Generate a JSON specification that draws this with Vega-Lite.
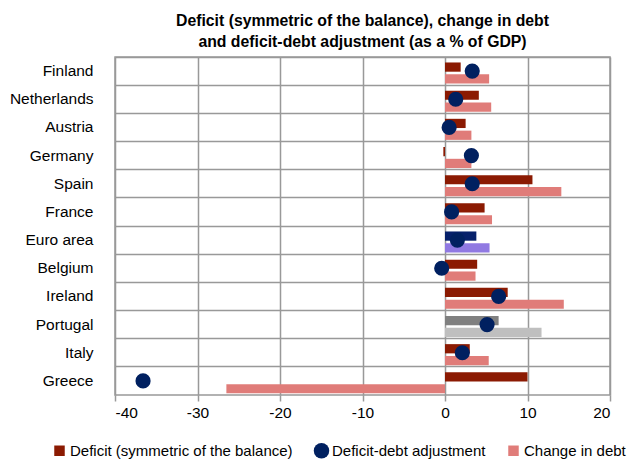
{
  "$schema": "https://vega.github.io/schema/vega-lite/v6.json",
  "autosize": "none",
  "width": 495,
  "height": 338,
  "padding": {"left": 115, "top": 57, "right": 24, "bottom": 68},
  "background": "white",
  "config": {
    "font": "Liberation Sans",
    "view": {"stroke": "#999999", "strokeWidth": 1.5}
  },
  "title": {
    "text": ["Deficit (symmetric of the balance), change in debt", "and deficit-debt adjustment (as a % of GDP)"],
    "font": "Liberation Sans",
    "fontSize": 15.8,
    "fontWeight": "bold",
    "color": "#000000",
    "anchor": "middle",
    "lineHeight": 21,
    "offset": 6
  },
  "data": {
    "values": [
      {"country": "Finland", "series": "Deficit", "value": 1.9, "colorKey": "Deficit (symmetric of the balance)"},
      {"country": "Finland", "series": "Change", "value": 5.35, "colorKey": "Change in debt"},
      {"country": "Finland", "series": "Adjustment", "value": 3.3, "colorKey": "Deficit-debt adjustment"},
      {"country": "Netherlands", "series": "Deficit", "value": 4.1, "colorKey": "Deficit (symmetric of the balance)"},
      {"country": "Netherlands", "series": "Change", "value": 5.6, "colorKey": "Change in debt"},
      {"country": "Netherlands", "series": "Adjustment", "value": 1.3, "colorKey": "Deficit-debt adjustment"},
      {"country": "Austria", "series": "Deficit", "value": 2.5, "colorKey": "Deficit (symmetric of the balance)"},
      {"country": "Austria", "series": "Change", "value": 3.2, "colorKey": "Change in debt"},
      {"country": "Austria", "series": "Adjustment", "value": 0.5, "colorKey": "Deficit-debt adjustment"},
      {"country": "Germany", "series": "Deficit", "value": -0.2, "colorKey": "Deficit (symmetric of the balance)"},
      {"country": "Germany", "series": "Change", "value": 3.2, "colorKey": "Change in debt"},
      {"country": "Germany", "series": "Adjustment", "value": 3.2, "colorKey": "Deficit-debt adjustment"},
      {"country": "Spain", "series": "Deficit", "value": 10.6, "colorKey": "Deficit (symmetric of the balance)"},
      {"country": "Spain", "series": "Change", "value": 14.1, "colorKey": "Change in debt"},
      {"country": "Spain", "series": "Adjustment", "value": 3.3, "colorKey": "Deficit-debt adjustment"},
      {"country": "France", "series": "Deficit", "value": 4.8, "colorKey": "Deficit (symmetric of the balance)"},
      {"country": "France", "series": "Change", "value": 5.7, "colorKey": "Change in debt"},
      {"country": "France", "series": "Adjustment", "value": 0.8, "colorKey": "Deficit-debt adjustment"},
      {"country": "Euro area", "series": "Deficit", "value": 3.8, "colorKey": "Euro area deficit"},
      {"country": "Euro area", "series": "Change", "value": 5.4, "colorKey": "Euro area change in debt"},
      {"country": "Euro area", "series": "Adjustment", "value": 1.5, "colorKey": "Deficit-debt adjustment"},
      {"country": "Belgium", "series": "Deficit", "value": 3.9, "colorKey": "Deficit (symmetric of the balance)"},
      {"country": "Belgium", "series": "Change", "value": 3.7, "colorKey": "Change in debt"},
      {"country": "Belgium", "series": "Adjustment", "value": -0.4, "colorKey": "Deficit-debt adjustment"},
      {"country": "Ireland", "series": "Deficit", "value": 7.6, "colorKey": "Deficit (symmetric of the balance)"},
      {"country": "Ireland", "series": "Change", "value": 14.4, "colorKey": "Change in debt"},
      {"country": "Ireland", "series": "Adjustment", "value": 6.5, "colorKey": "Deficit-debt adjustment"},
      {"country": "Portugal", "series": "Deficit", "value": 6.5, "colorKey": "Portugal deficit"},
      {"country": "Portugal", "series": "Change", "value": 11.7, "colorKey": "Portugal change in debt"},
      {"country": "Portugal", "series": "Adjustment", "value": 5.1, "colorKey": "Deficit-debt adjustment"},
      {"country": "Italy", "series": "Deficit", "value": 3.0, "colorKey": "Deficit (symmetric of the balance)"},
      {"country": "Italy", "series": "Change", "value": 5.3, "colorKey": "Change in debt"},
      {"country": "Italy", "series": "Adjustment", "value": 2.1, "colorKey": "Deficit-debt adjustment"},
      {"country": "Greece", "series": "Deficit", "value": 10.0, "colorKey": "Deficit (symmetric of the balance)"},
      {"country": "Greece", "series": "Change", "value": -26.5, "colorKey": "Change in debt"},
      {"country": "Greece", "series": "Adjustment", "value": -36.6, "colorKey": "Deficit-debt adjustment"}
    ]
  },
  "encoding": {
    "y": {
      "field": "country",
      "type": "nominal",
      "sort": ["Finland", "Netherlands", "Austria", "Germany", "Spain", "France", "Euro area", "Belgium", "Ireland", "Portugal", "Italy", "Greece"],
      "scale": {"paddingInner": 0, "paddingOuter": 0},
      "axis": {
        "title": null,
        "grid": true,
        "bandPosition": 0,
        "gridColor": "#999999",
        "gridWidth": 1.5,
        "ticks": false,
        "domain": false,
        "labelFontSize": 15.5,
        "labelColor": "#000000",
        "labelPadding": 22,
        "labelFont": "Liberation Sans"
      }
    },
    "x": {
      "field": "value",
      "type": "quantitative",
      "scale": {"domain": [-40, 20], "nice": false, "zero": false},
      "axis": {
        "title": null,
        "values": [-40, -30, -20, -10, 0, 10, 20],
        "labelExpr": "'' + datum.value",
        "grid": true,
        "gridColor": "#999999",
        "gridWidth": 1.5,
        "domain": false,
        "ticks": true,
        "tickSize": 6,
        "tickColor": "#999999",
        "tickWidth": 1.5,
        "labelFontSize": 15.5,
        "labelColor": "#000000",
        "labelPadding": 4,
        "labelFont": "Liberation Sans"
      }
    },
    "color": {
      "field": "colorKey",
      "type": "nominal",
      "scale": {
        "domain": ["Deficit (symmetric of the balance)", "Deficit-debt adjustment", "Change in debt", "Euro area deficit", "Euro area change in debt", "Portugal deficit", "Portugal change in debt"],
        "range": ["#8B1A02", "#002060", "#E07C79", "#06206A", "#9079E2", "#808080", "#BFBFBF"]
      },
      "legend": {
        "title": null,
        "orient": "none",
        "legendX": -63,
        "legendY": 386,
        "direction": "horizontal",
        "values": ["Deficit (symmetric of the balance)", "Deficit-debt adjustment", "Change in debt"],
        "labelFontSize": 15,
        "labelLimit": 400,
        "labelColor": "#000000",
        "labelFont": "Liberation Sans",
        "labelOffset": 3,
        "columnPadding": 20,
        "symbolSize": 240,
        "encode": {
          "symbols": {
            "update": {
              "shape": {"signal": "datum.value === 'Deficit-debt adjustment' ? 'circle' : 'square'"},
              "size": {"signal": "datum.value === 'Deficit-debt adjustment' ? 240 : 110"},
              "fillOpacity": {"value": 1},
              "strokeWidth": {"value": 0}
            }
          }
        }
      }
    }
  },
  "layer": [
    {
      "transform": [{"filter": "datum.series !== 'Adjustment'"}],
      "mark": {"type": "bar"},
      "encoding": {
        "yOffset": {
          "field": "series",
          "type": "nominal",
          "sort": ["Deficit", "Change"],
          "scale": {"domain": ["Deficit", "Change"], "paddingInner": 0.22, "paddingOuter": 0.3, "align": 0.77}
        }
      }
    },
    {
      "transform": [{"filter": "datum.series === 'Adjustment'"}],
      "mark": {"type": "point", "shape": "circle", "filled": true, "size": 230, "opacity": 1},
      "encoding": {}
    }
  ]
}
